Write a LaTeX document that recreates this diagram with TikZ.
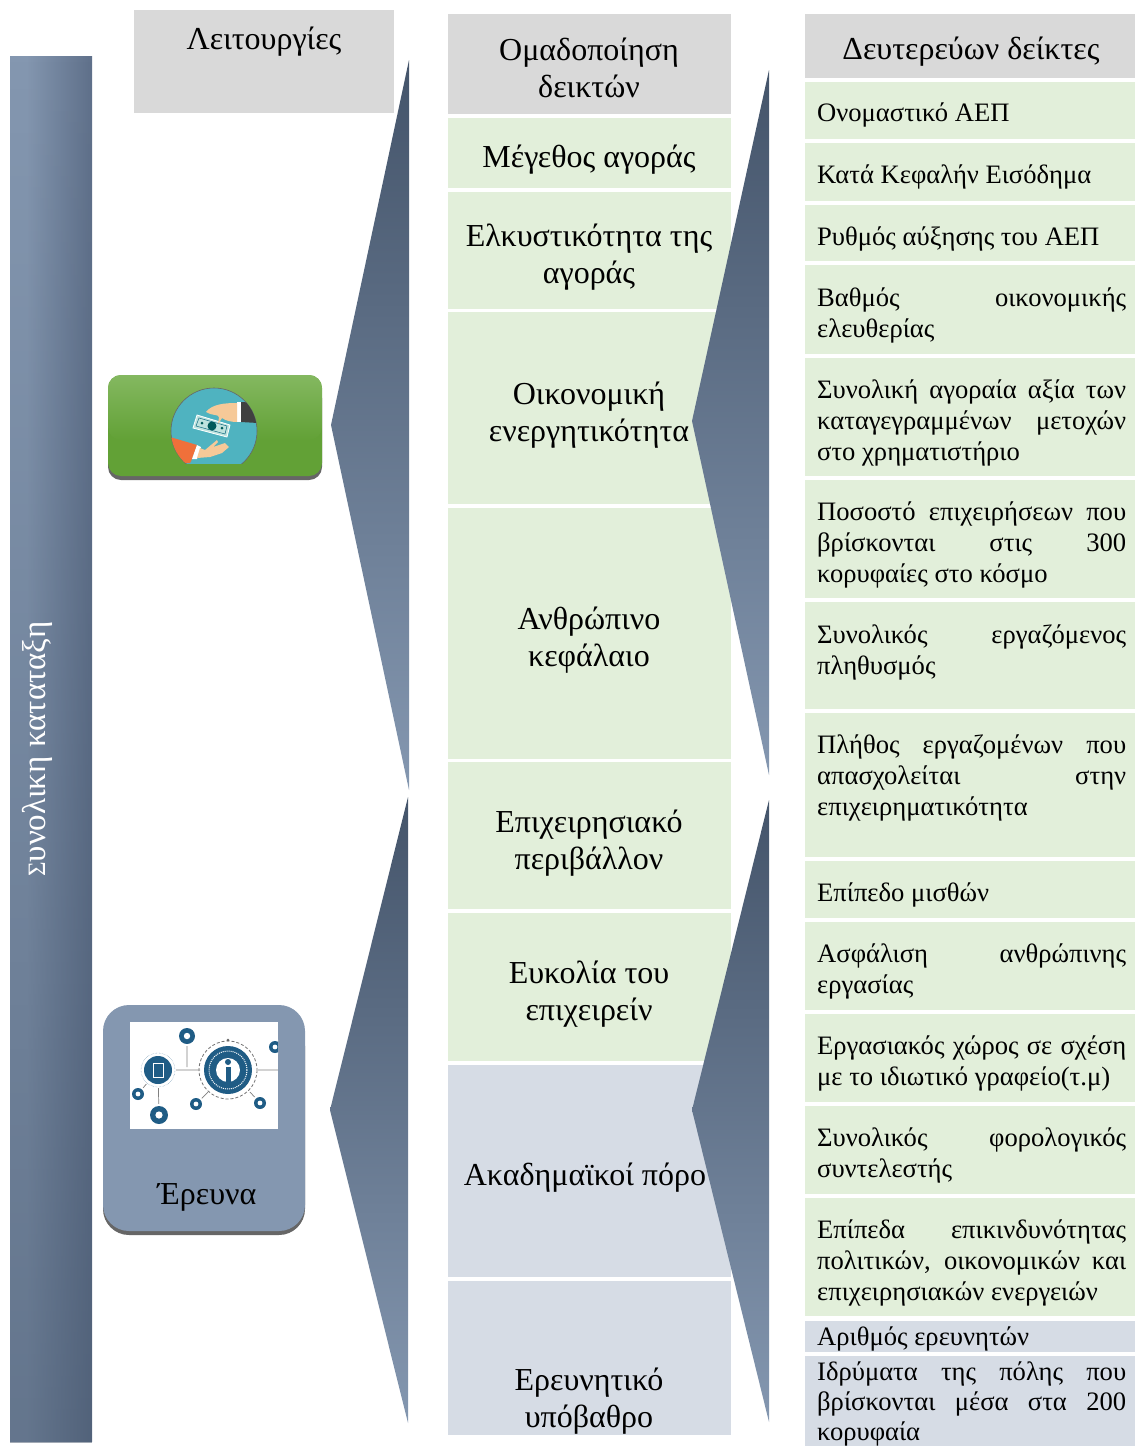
\documentclass[tikz,border=0pt]{standalone}
\usepackage{fontspec}
\usetikzlibrary{fadings}
\setmainfont{Liberation Serif}
\definecolor{headgrey}{HTML}{D9D9D9}
\definecolor{softgreen}{HTML}{E2EFDA}
\definecolor{softblue}{HTML}{D6DCE5}
\definecolor{slatedark}{HTML}{44546A}
\definecolor{slatemid}{HTML}{5F708A}
\definecolor{slatelight}{HTML}{8497B0}
\definecolor{leafgreen}{HTML}{62A136}
\definecolor{leaftop}{HTML}{84B860}
\definecolor{iconblue}{HTML}{1F5C85}
\definecolor{iconteal}{HTML}{4FB3C0}
\definecolor{skin}{HTML}{F6C998}
\definecolor{billpale}{HTML}{BFE3DE}
\definecolor{sleeve}{HTML}{F0703A}
\newcommand{\colfont}{\fontsize{26.6}{31}\selectfont\hyphenpenalty=10000\relax}
\newcommand{\tightfont}{\fontsize{26.6}{30}\selectfont\hyphenpenalty=10000\relax}
\pgfdeclarehorizontalshading{barshade}{100bp}{color(0bp)=(slatelight); color(35bp)=(slatelight); color(75bp)=(slatemid); color(100bp)=(slatemid)}
\tikzset{
    colhead/.style={font=\fontsize{32}{37}\selectfont, align=center, text=black, inner sep=0pt, yshift=-6pt},
    coltext/.style={font=\colfont, text width=309pt, align=justify, anchor=north west, inner sep=0pt, yshift=-6pt},
    chevron/.style={top color=slatedark, bottom color=slatelight, draw=none},
}
\begin{document}
\begin{tikzpicture}[x=1pt,y=-1pt]
    \useasboundingbox (0,0) rectangle (1135,1446);

    % left bar
    \shade[shading=barshade] (10,56) rectangle (92,1441);
    \fill[slatedark, path fading=north, fill opacity=0.5] (10,56) rectangle (92,1441);
    \node[rotate=90, text=white, font=\fontsize{33}{37}\selectfont, inner sep=0pt] (bartitle) at (37,749) {{\fontsize{25}{37}\selectfont Σ}υνολικη καταταξη};

    % header of first column
    \fill[headgrey] (134,10) rectangle (394,113);
    \node[colhead] (functions) at (264,36) {Λειτουργίες};

    % second column
    \fill[headgrey] (448,14) rectangle (731,114);
    \foreach \ytop/\ybot in {118/188, 192/309, 312/504, 508/759, 762/909, 913/1061}
        \fill[softgreen] (448,\ytop) rectangle (731,\ybot);
    \foreach \ytop/\ybot in {1065/1277, 1281/1435}
        \fill[softblue] (448,\ytop) rectangle (731,\ybot);

    \node[colhead] (group) at (589,62) {Ομαδοποίηση\\δεικτών};
    \node[colhead] (market) at (589,154) {Μέγεθος αγοράς};
    \node[colhead] (appeal) at (589,251) {Ελκυστικότητα της\\αγοράς};
    \node[colhead] (economy) at (589,409) {Οικονομική\\ενεργητικότητα};
    \node[colhead] (human) at (589,634) {Ανθρώπινο\\κεφάλαιο};
    \node[colhead] (business) at (589,837) {Επιχειρησιακό\\περιβάλλον};
    \node[colhead] (ease) at (589,988) {Ευκολία του\\επιχειρείν};
    \node[colhead] (academic) at (585,1172) {Ακαδημαϊκοί πόρο};
    \node[colhead] (research) at (589,1395) {Ερευνητικό\\υπόβαθρο};

    % third column
    \fill[headgrey] (805,14) rectangle (1135,78);
    \foreach \ytop/\ybot in {82/139, 143/201, 205/261, 265/354, 358/476, 480/598, 602/709, 713/857, 861/918, 922/1010, 1014/1102, 1106/1194, 1198/1316}
        \fill[softgreen] (805,\ytop) rectangle (1135,\ybot);
    \foreach \ytop/\ybot in {1321/1352, 1356/1446}
        \fill[softblue] (805,\ytop) rectangle (1135,\ybot);

    \node[colhead] (secondary) at (971,46) {Δευτερεύων δείκτες};
    \node[coltext] (c1) at (817,97) {Ονομαστικό ΑΕΠ};
    \node[coltext] (c2) at (817,159) {Κατά Κεφαλήν Εισόδημα};
    \node[coltext] (c3) at (817,221) {Ρυθμός αύξησης του ΑΕΠ};
    \node[coltext] (c4) at (817,282) {Βαθμός οικονομικής\linebreak ελευθερίας};
    \node[coltext] (c5) at (817,374) {Συνολική αγοραία αξία των\linebreak καταγεγραμμένων μετοχών\linebreak στο χρηματιστήριο};
    \node[coltext] (c6) at (817,496) {Ποσοστό επιχειρήσεων που\linebreak βρίσκονται στις 300\linebreak κορυφαίες στο κόσμο};
    \node[coltext] (c7) at (817,619) {Συνολικός εργαζόμενος\linebreak πληθυσμός};
    \node[coltext] (c8) at (817,729) {Πλήθος εργαζομένων που\linebreak απασχολείται στην\linebreak επιχειρηματικότητα};
    \node[coltext] (c9) at (817,877) {Επίπεδο μισθών};
    \node[coltext] (c10) at (817,938) {Ασφάλιση ανθρώπινης\linebreak εργασίας};
    \node[coltext] (c11) at (817,1030) {Εργασιακός χώρος σε σχέση\linebreak με το ιδιωτικό γραφείο(τ.μ)};
    \node[coltext] (c12) at (817,1122) {Συνολικός φορολογικός\linebreak συντελεστής};
    \node[coltext] (c13) at (817,1214) {Επίπεδα επικινδυνότητας\linebreak πολιτικών, οικονομικών και\linebreak επιχειρησιακών ενεργειών};
    \node[coltext] (c14) at (817,1321) {Αριθμός ερευνητών};
    \node[coltext, font=\tightfont] (c15) at (817,1356) {Ιδρύματα της πόλης που\linebreak βρίσκονται μέσα στα 200\linebreak κορυφαία};

    % pointed bands
    \shade[chevron] (409,60) -- (331,425) -- (409,790) -- cycle;
    \shade[chevron] (408,797) -- (330,1110) -- (408,1423) -- cycle;
    \shade[chevron] (769,70) -- (692,421) -- (769,775) -- cycle;
    \shade[chevron] (769,800) -- (692,1110) -- (769,1422) -- cycle;

    % green card
    \fill[black!60, rounded corners=13pt] (108,385) rectangle (322,480);
    \fill[leafgreen, rounded corners=13pt] (108,375) rectangle (322,476);
    \shade[top color=leaftop, bottom color=leafgreen, rounded corners=13pt] (108,375) rectangle (322,440);
    \begin{scope}
        \clip (108,375) rectangle (322,463);
        \fill[iconteal] (214,431) circle (43);
        \draw[black!60, line width=0.6pt] (214,431) circle (43);
        \begin{scope}
            \clip (214,431) circle (43);
            \fill[black!75] (241,402) -- (258,403) -- (258,423) -- (241,422) -- cycle;
            \fill[white] (237,402) -- (241,402) -- (241,422) -- (237,422) -- cycle;
            \fill[sleeve] (170,437) -- (197,445) -- (192,459) -- (190,463) -- (170,463) -- cycle;
            \fill[white] (197,445) -- (201,447) -- (197,459) -- (192,459) -- cycle;
            \fill[skin] (200,448) -- (205,450) -- (217,440) -- (218,442) -- (213,447) -- (225,443) -- (229,447) -- (222,453) -- (210,457) -- (197,458) -- cycle;
        \end{scope}
        \draw[white, fill=billpale, line width=0.8pt] (197,415) -- (230,425) -- (227,437) -- (193,428) -- cycle;
        \draw[iconblue!60!teal, line width=0.5pt] (199,418) -- (227,426) -- (225,434) -- (196,426) -- cycle;
        \fill[teal!70!black] (212,426) circle (4.5);
        \fill[teal!70!black] (202,423) circle (1.5) (222,428) circle (1.5);
        \fill[skin] (237,403) .. controls (225,403) and (212,404) .. (206,412) .. controls (212,416) and (218,414) .. (219,417) -- (218,424) -- (222,418) .. controls (226,421) and (232,422) .. (237,422) -- cycle;
    \end{scope}

    % blue card
    \fill[black!60, rounded corners=26pt] (103,1020) rectangle (305,1235);
    \fill[slatelight, rounded corners=26pt] (103,1005) rectangle (305,1231);
    \fill[white] (130,1022) rectangle (278,1129);
    \begin{scope}
        \clip (130,1022) rectangle (278,1129);
        \draw[black!50, line width=0.7pt] (158,1070) -- (200,1070) (187,1036) -- (187,1067) (158,1070) -- (159,1115) (158,1070) -- (138,1094) (196,1104) -- (208,1092) (260,1103) -- (250,1092) (258,1070) -- (278,1070);
        \fill[white] (158,1070) circle (18);
        \draw[iconblue!70, densely dotted] (158,1070) circle (17);
        \fill[iconblue] (158,1070) circle (14);
        \draw[white, line width=1pt] (153,1063) rectangle (163,1077);
        \foreach \x/\y/\r in {187/1036/8, 159/1115/9, 138/1094/6, 196/1104/6, 260/1103/6, 275/1047/6} {
            \fill[white] (\x,\y) circle (\r+2);
            \fill[iconblue] (\x,\y) circle (\r);
            \fill[white] (\x,\y) circle (\r*0.4);
        }
        \draw[black!55, densely dashed, line width=0.8pt] (228,1070) circle (29);
        \fill[black!60] (228,1040) circle (1.5);
        \fill[iconblue] (228,1070) circle (24);
        \draw[white, line width=1pt, densely dotted] (228,1070) circle (19);
        \fill[white] (228,1070) circle (12);
        \fill[iconblue] (225.5,1067) rectangle (230.5,1082);
        \fill[iconblue] (228,1062) circle (3);
    \end{scope}
    \node[colhead] (researchcard) at (207,1191) {Έρευνα};
\end{tikzpicture}
\end{document}
